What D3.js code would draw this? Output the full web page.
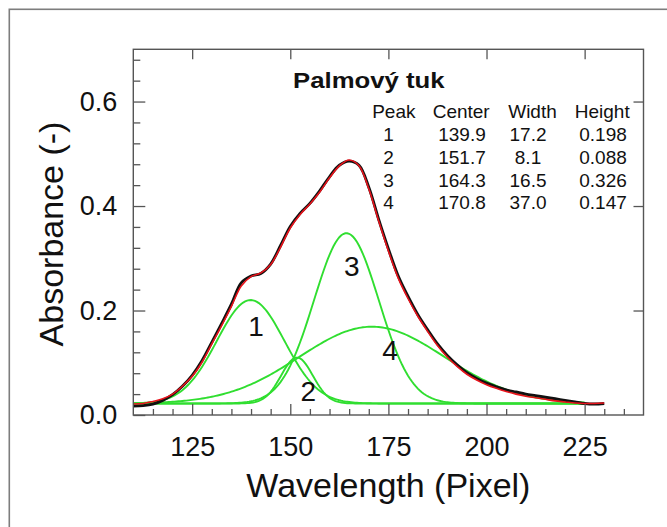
<!DOCTYPE html>
<html>
<head>
<meta charset="utf-8">
<script src="https://cdn.jsdelivr.net/npm/d3@7"></script>
<style>
  html, body { margin: 0; padding: 0; background: #fff; }
  svg { display: block; }
  text { font-family: "Liberation Sans", Arial, sans-serif; fill: #111; }
</style>
</head>
<body>
<svg id="chart" width="667" height="527"></svg>
<script>
// Sampling positions of the spectrum (pixel index on the detector)
const wavelength = [
  110, 112.5, 115, 117.5, 120, 122.5, 125, 127.5, 130, 132.5,
  135, 137.5, 140, 142.5, 145, 147.5, 150, 152.5, 155, 157.5,
  160, 162.5, 165, 167.5, 170, 172.5, 175, 177.5, 180, 182.5,
  185, 187.5, 190, 192.5, 195, 197.5, 200, 202.5, 205, 207.5,
  210, 212.5, 215, 217.5, 220, 222.5, 225, 227.5, 230
];
// Measured absorbance (black)
const measured = [
  0.017, 0.018, 0.021, 0.028, 0.039, 0.055, 0.076, 0.104, 0.139, 0.175,
  0.212, 0.253, 0.266, 0.271, 0.289, 0.324, 0.361, 0.386, 0.405, 0.429,
  0.456, 0.478, 0.486, 0.478, 0.436, 0.375, 0.318, 0.266, 0.227, 0.192,
  0.163, 0.136, 0.114, 0.096, 0.081, 0.070, 0.061, 0.054, 0.048, 0.044,
  0.040, 0.037, 0.034, 0.031, 0.028, 0.025, 0.022, 0.021, 0.022
];
// Fitted envelope (red)
const fitted = [
  0.021, 0.022, 0.026, 0.031, 0.040, 0.055, 0.074, 0.101, 0.136, 0.171,
  0.208, 0.247, 0.265, 0.272, 0.288, 0.321, 0.358, 0.384, 0.404, 0.427,
  0.454, 0.477, 0.488, 0.477, 0.433, 0.372, 0.314, 0.262, 0.223, 0.189,
  0.160, 0.133, 0.111, 0.093, 0.078, 0.067, 0.058, 0.051, 0.045, 0.040,
  0.036, 0.033, 0.030, 0.027, 0.025, 0.023, 0.022, 0.022, 0.023
];

// Gaussian components of the fit
const peakIds = [1, 2, 3, 4];
const peakCenters = [139.9, 151.7, 164.3, 170.8];
const peakWidths = [17.2, 8.1, 16.5, 37.0];
const peakHeights = [0.198, 0.088, 0.326, 0.147];
const fitBaseline = 0.022;
const componentRange = [110, 225];

const xTicks = [125, 150, 175, 200, 225];
const yTicks = [0.0, 0.2, 0.4, 0.6];
const tableHeader = ["Peak", "Center", "Width", "Height"];
const chartTitle = "Palmový tuk";
const xTitle = "Wavelength (Pixel)";
const yTitle = "Absorbance (-)";

// ---- layout ----
const svg = d3.select("#chart");
const M = { left: 133.3, right: 643.5, top: 49.3, bottom: 415 };
const x = d3.scaleLinear().domain([110, 240]).range([M.left, M.right]);
const y = d3.scaleLinear().domain([0, 0.7]).range([M.bottom, M.top]);

const axisColor = "#555";
const tickFont = 27;

// outer frame
svg.append("rect")
  .attr("x", 9.3).attr("y", 9.3).attr("width", 800).attr("height", 800)
  .attr("fill", "none").attr("stroke", "#7d7d7d").attr("stroke-width", 1.6);

// clip for the plotting area
svg.append("defs").append("clipPath").attr("id", "plotClip")
  .append("rect")
  .attr("x", M.left).attr("y", M.top)
  .attr("width", M.right - M.left).attr("height", M.bottom - M.top);

const plot = svg.append("g").attr("clip-path", "url(#plotClip)");

// component curves, Width taken as 2·sigma
const sampleX = d3.range(componentRange[0], componentRange[1] + 0.001, 0.5);
const gaussLine = d3.line().x(d => x(d[0])).y(d => y(d[1]));
peakIds.forEach((id, i) => {
  const c = peakCenters[i], s = peakWidths[i] / 2, h = peakHeights[i];
  const pts = sampleX.map(v => [v, fitBaseline + h * Math.exp(-((v - c) ** 2) / (2 * s * s))]);
  plot.append("path")
    .attr("d", gaussLine(pts))
    .attr("fill", "none")
    .attr("stroke", "#30de30")
    .attr("stroke-width", 1.9);
});

const spectrumLine = d3.line()
  .x((d, i) => x(wavelength[i]))
  .y(d => y(d))
  .curve(d3.curveCatmullRom.alpha(0.5));

plot.append("path")
  .attr("d", spectrumLine(measured))
  .attr("fill", "none").attr("stroke", "#111").attr("stroke-width", 2.9)
  .attr("stroke-linejoin", "round");
plot.append("path")
  .attr("d", spectrumLine(fitted))
  .attr("fill", "none").attr("stroke", "#e8131b").attr("stroke-width", 1.6)
  .attr("stroke-linejoin", "round");

// peak labels inside the plot
const peakLabelAt = [[141.3, 0.170], [154.6, 0.045], [165.7, 0.285], [175.4, 0.124]];
peakIds.forEach((id, i) => {
  svg.append("text")
    .attr("x", x(peakLabelAt[i][0])).attr("y", y(peakLabelAt[i][1]))
    .attr("text-anchor", "middle").attr("dominant-baseline", "central")
    .attr("font-size", 28).text(id);
});

// ---- axes ----
function styleAxis(g) {
  g.select(".domain").remove();
  g.selectAll("line").attr("stroke", axisColor).attr("stroke-width", 1.3);
  g.selectAll("text").attr("font-size", tickFont).attr("fill", "#111")
    .attr("font-family", "Liberation Sans, Arial, sans-serif");
}
const minorX = d3.range(115, 240, 5).filter(v => v % 25 !== 0);
const minorY = d3.range(0.04, 0.7, 0.04).filter(v => Math.abs(v / 0.2 - Math.round(v / 0.2)) > 1e-6);

svg.append("g").attr("transform", `translate(0,${M.bottom})`)
  .call(d3.axisBottom(x).tickValues(minorX).tickSize(-6).tickFormat(""))
  .call(styleAxis);
svg.append("g").attr("transform", `translate(0,${M.bottom})`)
  .call(d3.axisBottom(x).tickValues(xTicks).tickSize(-11).tickPadding(21.5).tickFormat(d3.format("d")))
  .call(styleAxis);
svg.append("g").attr("transform", `translate(0,${M.top})`)
  .call(d3.axisTop(x).tickValues(xTicks).tickSize(-10).tickFormat(""))
  .call(styleAxis);

svg.append("g").attr("transform", `translate(${M.left},0)`)
  .call(d3.axisLeft(y).tickValues(minorY).tickSize(-7).tickFormat(""))
  .call(styleAxis);
svg.append("g").attr("transform", `translate(${M.left},0)`)
  .call(d3.axisLeft(y).tickValues(yTicks).tickSize(-12).tickPadding(16).tickFormat(d3.format(".1f")))
  .call(styleAxis);
svg.append("g").attr("transform", `translate(${M.right},0)`)
  .call(d3.axisRight(y).tickValues(yTicks.filter(v => v > 0)).tickSize(-10).tickFormat(""))
  .call(styleAxis);

// plot frame
svg.append("rect")
  .attr("x", M.left).attr("y", M.top)
  .attr("width", M.right - M.left).attr("height", M.bottom - M.top)
  .attr("fill", "none").attr("stroke", axisColor).attr("stroke-width", 1.4);

// axis titles
svg.append("text")
  .attr("x", (M.left + M.right) / 2).attr("y", 497)
  .attr("text-anchor", "middle").attr("font-size", 34).text(xTitle);
svg.append("text")
  .attr("transform", `translate(63,234) rotate(-90)`)
  .attr("text-anchor", "middle").attr("font-size", 34).text(yTitle);

// ---- fit parameter table ----
svg.append("text")
  .attr("transform", "translate(293,88.3) scale(1.17,1)")
  .attr("font-size", 22).attr("font-weight", "bold").text(chartTitle);

const colX = [388.5, 462, 528, 603];
const headX = [393.8, 461.2, 532.5, 602.2];
const rowY0 = 118.4, rowStep = 22.75;
const tbl = svg.append("g").attr("font-size", 19);
tableHeader.forEach((h, j) => {
  tbl.append("text").attr("x", headX[j]).attr("y", rowY0)
    .attr("text-anchor", "middle").text(h);
});
const fmt1 = d3.format(".1f"), fmt3 = d3.format(".3f");
peakIds.forEach((id, i) => {
  const cells = [String(id), fmt1(peakCenters[i]), fmt1(peakWidths[i]), fmt3(peakHeights[i])];
  cells.forEach((c, j) => {
    tbl.append("text").attr("x", colX[j]).attr("y", rowY0 + rowStep * (i + 1))
      .attr("text-anchor", "middle").text(c);
  });
});
</script>
</body>
</html>
